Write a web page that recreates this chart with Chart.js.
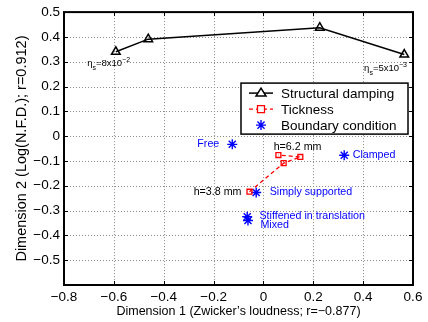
<!DOCTYPE html>
<html><head><meta charset="utf-8">
<script src="https://cdn.jsdelivr.net/npm/chart.js@4.4.1/dist/chart.umd.min.js"></script>
<style>html,body{margin:0;padding:0;background:#fff}canvas{display:block}</style>
</head><body>
<canvas id="c" width="428" height="322"></canvas>
<script>
// ---- data ----
const seriesNames = ['Structural damping', 'Tickness', 'Boundary condition'];
const dampingX = [-0.592, -0.462, 0.226, 0.565];
const dampingY = [0.340, 0.391, 0.437, 0.329];
const thickX = [-0.056, 0.081, 0.148, 0.060];
const thickY = [-0.224, -0.109, -0.084, -0.076];
const boundaryNames = ['Free', 'Clamped', 'Simply supported', 'Stiffened in translation', 'Mixed'];
const boundaryX = [-0.125, 0.324, -0.029, -0.065, -0.062];
const boundaryY = [-0.033, -0.077, -0.227, -0.325, -0.340];
const xTickValues = [-0.8, -0.6, -0.4, -0.2, 0, 0.2, 0.4, 0.6];
const yTickValues = [0.5, 0.4, 0.3, 0.2, 0.1, 0, -0.1, -0.2, -0.3, -0.4, -0.5];
// text annotations (anchor in data units)
const noteText = ['h=3.8 mm', 'h=6.2 mm', 'Free', 'Clamped', 'Simply supported', 'Stiffened in translation', 'Mixed'];
const noteX = [-0.088, 0.041, -0.177, 0.358, 0.025, -0.016, -0.012];
const noteY = [-0.224, -0.043, -0.033, -0.077, -0.227, -0.324, -0.360];
const noteAlign = ['right', 'left', 'right', 'left', 'left', 'left', 'left'];
const noteColor = ['#000', '#000', '#0000ff', '#0000ff', '#0000ff', '#0000ff', '#0000ff'];
const etaBase = ['8x10', '5x10'];
const etaExp = ['\u22122', '\u22123'];
const etaX = [-0.707, 0.576];
const etaY = [0.292, 0.272];
const etaAlign = ['left', 'right'];

const FONT = '"Liberation Sans", Arial, Helvetica, sans-serif';
const fmt = v => {
  const r = Math.round(v * 10) / 10;
  if (r === 0) return '0';
  return (r < 0 ? '\u2212' : '') + Math.abs(r).toFixed(1);
};

const toPts = (xs, ys) => xs.map((x, i) => ({x, y: ys[i]}));

const gridPlugin = {
  id: 'dotgrid',
  beforeDatasetsDraw(chart) {
    const {ctx, chartArea: a, scales} = chart;
    ctx.save();
    ctx.strokeStyle = '#8c8c8c';
    ctx.lineWidth = 1;
    ctx.setLineDash([1, 2]);
    ctx.beginPath();
    xTickValues.forEach(v => {
      const px = Math.round(scales.x.getPixelForValue(v)) + 0.5;
      ctx.moveTo(px, a.top); ctx.lineTo(px, a.bottom);
    });
    yTickValues.forEach(v => {
      const py = Math.round(scales.y.getPixelForValue(v)) + 0.5;
      ctx.moveTo(a.left, py); ctx.lineTo(a.right, py);
    });
    ctx.stroke();
    ctx.restore();
  }
};

const framePlugin = {
  id: 'frame',
  afterDraw(chart) {
    const {ctx, chartArea: a, scales} = chart;
    ctx.save();
    // inner ticks
    ctx.strokeStyle = '#000'; ctx.lineWidth = 1;
    ctx.beginPath();
    xTickValues.forEach(v => {
      const px = Math.round(scales.x.getPixelForValue(v)) + 0.5;
      ctx.moveTo(px, a.bottom); ctx.lineTo(px, a.bottom - 4);
      ctx.moveTo(px, a.top); ctx.lineTo(px, a.top + 4);
    });
    yTickValues.concat([-0.6]).forEach(v => {
      const py = Math.round(scales.y.getPixelForValue(v)) + 0.5;
      ctx.moveTo(a.left, py); ctx.lineTo(a.left + 4, py);
      ctx.moveTo(a.right, py); ctx.lineTo(a.right - 4, py);
    });
    ctx.stroke();
    ctx.lineWidth = 2;
    ctx.strokeRect(a.left, a.top, a.right - a.left, a.bottom - a.top);

    // annotations
    ctx.textBaseline = 'middle';
    ctx.font = '10.7px ' + FONT;
    noteText.forEach((t, i) => {
      ctx.fillStyle = noteColor[i];
      ctx.textAlign = noteAlign[i];
      ctx.fillText(t, scales.x.getPixelForValue(noteX[i]), scales.y.getPixelForValue(noteY[i]));
    });
    // eta labels
    ctx.fillStyle = '#000';
    ctx.textAlign = 'left';
    etaBase.forEach((b, i) => {
      const big = '9.5px ' + FONT, small = '7px ' + FONT;
      ctx.font = big; const w1 = ctx.measureText('\u03b7').width;
      ctx.font = small; const w2 = ctx.measureText('s').width;
      ctx.font = big; const w3 = ctx.measureText('=' + b).width;
      ctx.font = small; const w4 = ctx.measureText(etaExp[i]).width;
      const total = w1 + w2 + w3 + w4;
      let x = scales.x.getPixelForValue(etaX[i]);
      if (etaAlign[i] === 'right') x -= total;
      const y = scales.y.getPixelForValue(etaY[i]);
      ctx.font = big; ctx.fillText('\u03b7', x, y); x += w1;
      ctx.font = small; ctx.fillText('s', x, y + 4); x += w2;
      ctx.font = big; ctx.fillText('=' + b, x, y); x += w3;
      ctx.font = small; ctx.fillText(etaExp[i], x, y - 4);
    });

    // legend
    const L = a.right - 172, T = a.top + 71, W = 167, H = 51;
    ctx.fillStyle = '#fff';
    ctx.fillRect(L, T, W, H);
    ctx.lineWidth = 1.5; ctx.strokeStyle = '#000';
    ctx.strokeRect(L, T, W, H);
    const ds = chart.data.datasets;
    ds.forEach((d, i) => {
      const y = T + 10 + i * 16;
      const x0 = L + 8, x1 = L + 32, xm = (x0 + x1) / 2;
      ctx.strokeStyle = d.borderColor;
      ctx.lineWidth = d.borderWidth;
      if (d.showLine) {
        ctx.setLineDash(d.borderDash || []);
        ctx.beginPath(); ctx.moveTo(x0, y); ctx.lineTo(x1, y); ctx.stroke();
        ctx.setLineDash([]);
      }
      ctx.lineWidth = d.pointBorderWidth;
      ctx.strokeStyle = d.pointBorderColor;
      const r = d.pointRadius;
      ctx.beginPath();
      if (d.pointStyle === 'triangle') {
        ctx.fillStyle = '#fff';
        ctx.moveTo(xm - r, y + r * 0.6); ctx.lineTo(xm + r, y + r * 0.6); ctx.lineTo(xm, y - r * 1.0); ctx.closePath();
        ctx.fill(); ctx.stroke();
      } else if (d.pointStyle === 'rect') {
        ctx.fillStyle = '#fff';
        ctx.rect(xm - r, y - r, 2 * r, 2 * r); ctx.fill(); ctx.stroke();
      } else {
        for (let k = 0; k < 4; k++) {
          const ang = k * Math.PI / 4;
          ctx.moveTo(xm - r * Math.cos(ang), y - r * Math.sin(ang));
          ctx.lineTo(xm + r * Math.cos(ang), y + r * Math.sin(ang));
        }
        ctx.stroke();
      }
      ctx.fillStyle = '#000';
      ctx.font = '13.5px ' + FONT;
      ctx.textAlign = 'left'; ctx.textBaseline = 'middle';
      ctx.fillText(seriesNames[i], L + 40, y + 1);
    });
    ctx.restore();
  }
};

new Chart(document.getElementById('c'), {
  type: 'scatter',
  data: {
    datasets: [
      {label: seriesNames[0], data: toPts(dampingX, dampingY), showLine: true,
       borderColor: '#000', borderWidth: 1.5, pointStyle: 'triangle', pointRadius: 5,
       pointBorderColor: '#000', pointBackgroundColor: 'rgba(255,255,255,0)', pointBorderWidth: 1.5},
      {label: seriesNames[1], data: toPts(thickX, thickY), showLine: true,
       borderColor: '#ff0000', borderWidth: 1.3, borderDash: [4, 3], pointStyle: 'rect', pointRadius: 3.5,
       pointBorderColor: '#ff0000', pointBackgroundColor: 'rgba(255,255,255,0)', pointBorderWidth: 1.3},
      {label: seriesNames[2], data: toPts(boundaryX, boundaryY), showLine: false,
       borderColor: '#0000ff', borderWidth: 1.3, pointStyle: 'star', pointRadius: 5,
       pointBorderColor: '#0000ff', pointBackgroundColor: '#0000ff', pointBorderWidth: 1.4}
    ]
  },
  options: {
    responsive: false, animation: false,
    layout: {padding: {top: 10, right: 15, left: 0, bottom: 0}},
    plugins: {legend: {display: false}, tooltip: {enabled: false}},
    scales: {
      x: {
        type: 'linear', min: -0.8, max: 0.6,
        afterBuildTicks: s => { s.ticks = xTickValues.map(v => ({value: v})); },
        afterFit: s => { s.height = 37; },
        grid: {display: false, drawTicks: false},
        border: {display: false},
        ticks: {callback: v => fmt(v), color: '#000', padding: 4, maxRotation: 0,
                font: {family: FONT, size: 13.5}},
        title: {display: true, text: 'Dimension 1 (Zwicker\u2019s loudness; r=\u22120.877)', color: '#000',
                font: {family: FONT, size: 12.5}, padding: {top: 0, bottom: 3}}
      },
      y: {
        type: 'linear', min: -0.6, max: 0.5,
        afterBuildTicks: s => { s.ticks = [-0.6].concat(yTickValues.slice().reverse()).map(v => ({value: v})); },
        afterFit: s => { s.width = 64; },
        grid: {display: false, drawTicks: false},
        border: {display: false},
        ticks: {callback: v => (Math.abs(v + 0.6) < 1e-6 ? '' : fmt(v)), color: '#000', padding: 4,
                font: {family: FONT, size: 13.5}},
        title: {display: true, text: 'Dimension 2 (Log(N.F.D.); r=0.912)', color: '#000',
                font: {family: FONT, size: 14.5}, padding: {top: 13, bottom: 0}}
      }
    }
  },
  plugins: [gridPlugin, framePlugin]
});
</script>
</body></html>
